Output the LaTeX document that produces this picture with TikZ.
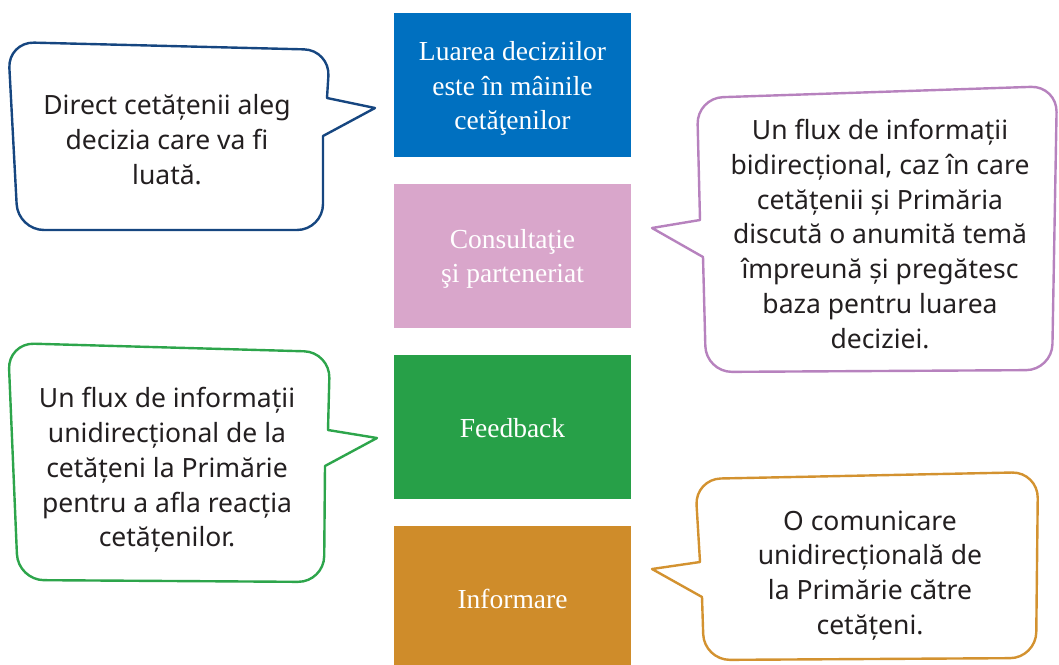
\documentclass[tikz,border=0pt]{standalone}
\usepackage{fontspec}
\setmainfont{Noto Sans}
\newfontfamily\boxfont{Liberation Serif}
\definecolor{cblue}{RGB}{0,112,192}
\definecolor{cpink}{RGB}{217,166,203}
\definecolor{cgreen}{RGB}{39,160,72}
\definecolor{corange}{RGB}{207,140,42}
\definecolor{lblue}{RGB}{22,70,128}
\definecolor{lpink}{RGB}{183,130,190}
\definecolor{lgreen}{RGB}{45,165,75}
\definecolor{lorange}{RGB}{211,146,48}
\definecolor{txt}{RGB}{35,31,32}
\begin{document}
\begin{tikzpicture}[x=1pt,y=-1pt,
  level/.style={fill=#1, draw=none, minimum width=237pt, minimum height=144pt, inner sep=0pt},
  ltext/.style={text=white, align=center, inner sep=0pt, font=\boxfont\fontsize{27.5}{34.5}\selectfont},
  bubble/.style={draw=#1, line width=2.4pt, fill=white, line join=round, line cap=round},
  btext/.style={text=txt, align=center, inner sep=0pt, font=\fontsize{26.5}{34.8}\selectfont}]
\useasboundingbox (0,0) rectangle (1059,664);

% level boxes
\node[level=cblue]   (b1) at (512.5,85)  {};
\node[level=cpink]   (b2) at (512.5,256) {};
\node[level=cgreen]  (b3) at (512.5,427) {};
\node[level=corange] (b4) at (512.5,598) {};
\node[ltext] (l1) at ([yshift=-3.5pt]b1.center) {Luarea deciziilor\\este în mâinile\\cetăţenilor};
\node[ltext] (l2) at ([yshift=-3pt]b2.center) {Consultaţie\\şi parteneriat};
\node[ltext] (l3) at ([yshift=-1pt]b3.center) {Feedback};
\node[ltext] (l4) at ([yshift=-1pt]b4.center) {Informare};

% bubble 1 (blue)
\coordinate (t1) at (375,108);
\draw[bubble=lblue] (327,98) -- (t1) -- (323,136) [rounded corners=26] -- (323,230) -- (18,230) -- (8,42) -- (330,50) [sharp corners] -- (327,98) -- cycle;
\node[btext] (c1) at (167,139.5) {Direct cetățenii aleg\\decizia care va fi\\luată.};

% bubble 2 (pink)
\coordinate (t2) at (652,228);
\draw[bubble=lpink] (700,220) -- (t2) -- (703,257) [rounded corners=26] -- (706,372) -- (1052,370) -- (1057,86) -- (697,98) [sharp corners] -- (700,220) -- cycle;
\node[btext] (c2) at (880,234) {Un flux de informații\\bidirecțional, caz în care\\cetățenii și Primăria\\discută o anumită temă\\împreună și pregătesc\\baza pentru luarea\\deciziei.};

% bubble 3 (green)
\coordinate (t3) at (377,438);
\draw[bubble=lgreen] (328,430) -- (t3) -- (325,466) [rounded corners=26] -- (324,582) -- (18,580) -- (8,343) -- (330,352) [sharp corners] -- (328,430) -- cycle;
\node[btext] (c3) at (167,470) {Un flux de informații\\unidirecțional de la\\cetățeni la Primărie\\pentru a afla reacția\\cetățenilor.};

% bubble 4 (orange)
\coordinate (t4) at (652,569);
\draw[bubble=lorange] (700,562) -- (t4) -- (702,597) [rounded corners=26] -- (704,660) -- (1036,658) -- (1038,472) -- (695,479) [sharp corners] -- (700,562) -- cycle;
\node[btext] (c4) at (870,575.5) {O comunicare\\unidirecțională de\\la Primărie către\\cetățeni.};
\end{tikzpicture}
\end{document}
